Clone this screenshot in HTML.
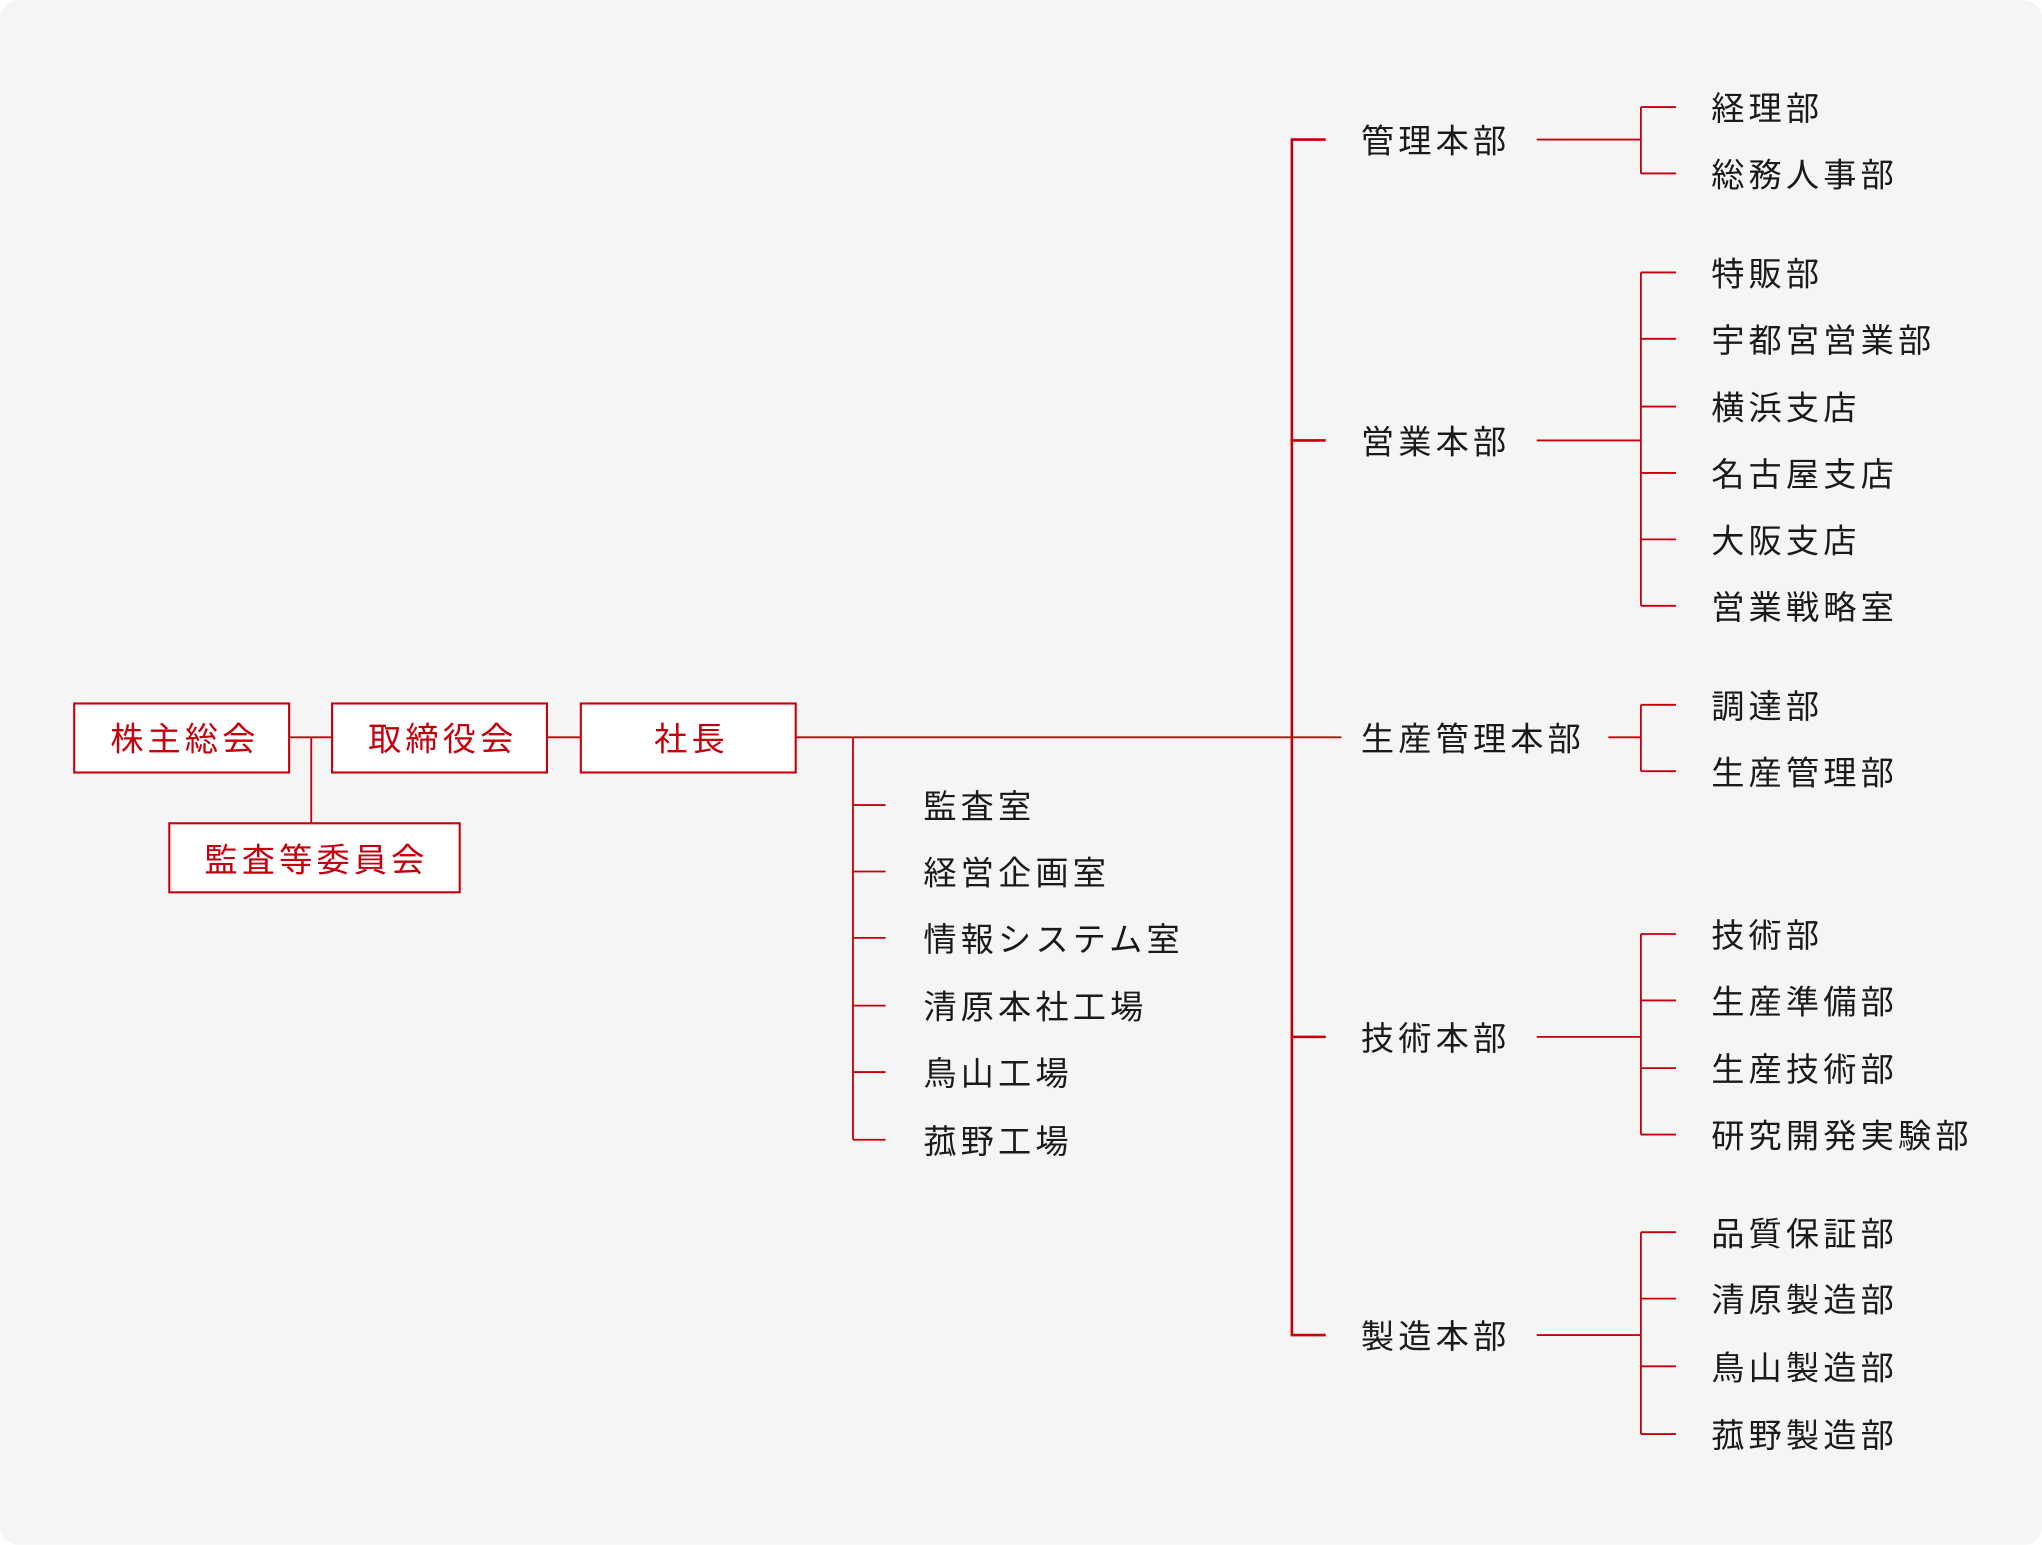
<!DOCTYPE html>
<html><head><meta charset="utf-8"><style>
html,body{margin:0;padding:0;background:#fff;}
svg{display:block}
text{font-family:"Liberation Sans","Noto Sans CJK JP",sans-serif;font-size:25.5px;letter-spacing:3.2px;fill:#1a1a1a;dominant-baseline:central}
.r{fill:#c4000b}
</style></head><body>
<svg width="2042" height="1545" viewBox="0 0 1568 1186" xmlns="http://www.w3.org/2000/svg">
<rect x="0" y="0" width="1568" height="1186" rx="14" fill="#f5f5f5"/>
<g fill="#fff" stroke="#c4000b" stroke-width="1.6">
<rect x="57" y="540" width="165" height="53"/>
<rect x="255" y="540" width="165" height="53"/>
<rect x="446" y="540" width="165" height="53"/>
<rect x="130" y="632" width="223" height="53"/>
</g>
<g transform="translate(0,2)">
<g class="r" text-anchor="middle">
<text class="r" x="142" y="566">株主総会</text>
<text class="r" x="340" y="566">取締役会</text>
<text class="r" x="531" y="566">社長</text>
<text class="r" x="243" y="659">監査等委員会</text>
</g>
<text x="709" y="618">監査室</text>
<text x="709" y="669">経営企画室</text>
<text x="709" y="720">情報システム室</text>
<text x="709" y="772">清原本社工場</text>
<text x="709" y="823">鳥山工場</text>
<text x="709" y="875">菰野工場</text>
<text x="1045" y="107">管理本部</text>
<text x="1045" y="338">営業本部</text>
<text x="1045" y="566">生産管理本部</text>
<text x="1045" y="796">技術本部</text>
<text x="1045" y="1025">製造本部</text>
<text x="1314" y="82">経理部</text>
<text x="1314" y="133">総務人事部</text>
<text x="1314" y="209">特販部</text>
<text x="1314" y="260">宇都宮営業部</text>
<text x="1314" y="312">横浜支店</text>
<text x="1314" y="363">名古屋支店</text>
<text x="1314" y="414">大阪支店</text>
<text x="1314" y="465">営業戦略室</text>
<text x="1314" y="541">調達部</text>
<text x="1314" y="592">生産管理部</text>
<text x="1314" y="717">技術部</text>
<text x="1314" y="768">生産準備部</text>
<text x="1314" y="820">生産技術部</text>
<text x="1314" y="871">研究開発実験部</text>
<text x="1314" y="946">品質保証部</text>
<text x="1314" y="997">清原製造部</text>
<text x="1314" y="1049">鳥山製造部</text>
<text x="1314" y="1101">菰野製造部</text>
</g>
<g stroke="#c4000b" stroke-width="1.4" fill="none">
<path d="M222 566H255M420 566H446M611 566H1030M239 566V632"/>
<path d="M655 566V875M655 618H680M655 669H680M655 720H680M655 772H680M655 823H680M655 875H680"/>
<path d="M992 107V1025" stroke-width="2"/>
<path d="M991 107H1018M991 338H1018M991 796H1018M991 1025H1018" stroke-width="2"/>
<path d="M1180 107H1260M1180 338H1260M1235 566H1260M1180 796H1260M1180 1025H1260"/>
<path d="M1260 82V133M1260 82H1287M1260 133H1287"/>
<path d="M1260 209V465M1260 209H1287M1260 260H1287M1260 312H1287M1260 363H1287M1260 414H1287M1260 465H1287"/>
<path d="M1260 541V592M1260 541H1287M1260 592H1287"/>
<path d="M1260 717V871M1260 717H1287M1260 768H1287M1260 820H1287M1260 871H1287"/>
<path d="M1260 946V1101M1260 946H1287M1260 997H1287M1260 1049H1287M1260 1101H1287"/>
</g>
</svg>
</body></html>
